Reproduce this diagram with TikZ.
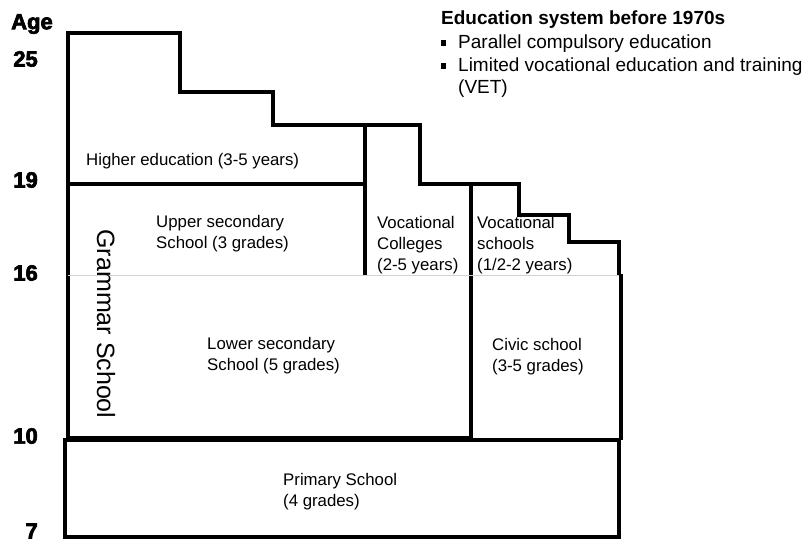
\documentclass[tikz,border=0pt]{standalone}
\usepackage{fontspec}
\setmainfont{Liberation Sans}
\newfontfamily\agefont{Liberation Sans Bold}[FakeBold=3]
\begin{document}
\begin{tikzpicture}[x=1pt,y=-1pt,
  wall/.style={line width=3.4pt, line join=miter},
  thickwall/.style={line width=4.2pt},
  lbl/.style={font=\fontsize{16.8}{21}\selectfont, align=left, inner sep=0pt, anchor=west},
  headtxt/.style={font=\fontsize{19}{22}\selectfont, inner sep=0pt, anchor=west},
  sqbullet/.style={fill=black, minimum size=5.5pt, inner sep=0pt},
  agelbl/.style={font=\agefont\fontsize{22}{22}\selectfont, inner sep=0pt, anchor=east}]
\useasboundingbox (0,0) rectangle (807,542);
\fill[white] (0,0) rectangle (807,542);
% outlines
\draw[wall] (68,440) -- (68,33) -- (180,33) -- (180,92) -- (273,92) -- (273,125)
  -- (420,125) -- (420,184) -- (519,184) -- (519,215) -- (569,215) -- (569,242)
  -- (619,242) -- (619,276);
\draw[wall] (68,184) -- (365,184);
\draw[wall] (365,125) -- (365,276);
\draw[wall] (471,184) -- (471,438) -- (68,438);
\draw[gray!35, line width=1pt] (68,275) -- (621,275);
\draw[thickwall] (621,274) -- (621,440);
\draw[wall] (65,440) rectangle (619,537);
% texts
\node[lbl] (higher) at (86,161) {Higher education (3-5 years)};
\node[lbl] (upper) at (156,234) {Upper secondary\\School (3 grades)};
\node[font=\fontsize{25}{25}\selectfont, rotate=-90, inner sep=0pt] (grammar) at (106,324) {Grammar School};
\node[lbl] (lower) at (207,356) {Lower secondary\\School (5 grades)};
\node[lbl] (vcol) at (377,245) {Vocational\\Colleges\\(2-5 years)};
\node[lbl] (vsch) at (477,245) {Vocational\\schools\\(1/2-2 years)};
\node[lbl] (civic) at (492,357) {Civic school\\(3-5 grades)};
\node[lbl] (primary) at (283,492) {Primary School\\(4 grades)};
% heading
\node[headtxt, font=\bfseries\fontsize{19}{22}\selectfont] (title) at (441,20) {Education system before 1970s};
\node[sqbullet] (sq1) at (443.5,43) {};
\node[headtxt] (b1) at (458,44) {Parallel compulsory education};
\node[sqbullet] (sq2) at (443.5,66) {};
\node[headtxt] (b2) at (458,67) {Limited vocational education and training};
\node[headtxt] (b3) at (458,89) {(VET)};
% ages
\node[agelbl, anchor=west] (age) at (11,24) {Age};
\node[agelbl] (a25) at (38,59) {25};
\node[agelbl] (a19) at (38,180) {19};
\node[agelbl] (a16) at (38,273) {16};
\node[agelbl] (a10) at (38,436) {10};
\node[agelbl] (a7) at (38,531) {7};
\end{tikzpicture}
\end{document}
